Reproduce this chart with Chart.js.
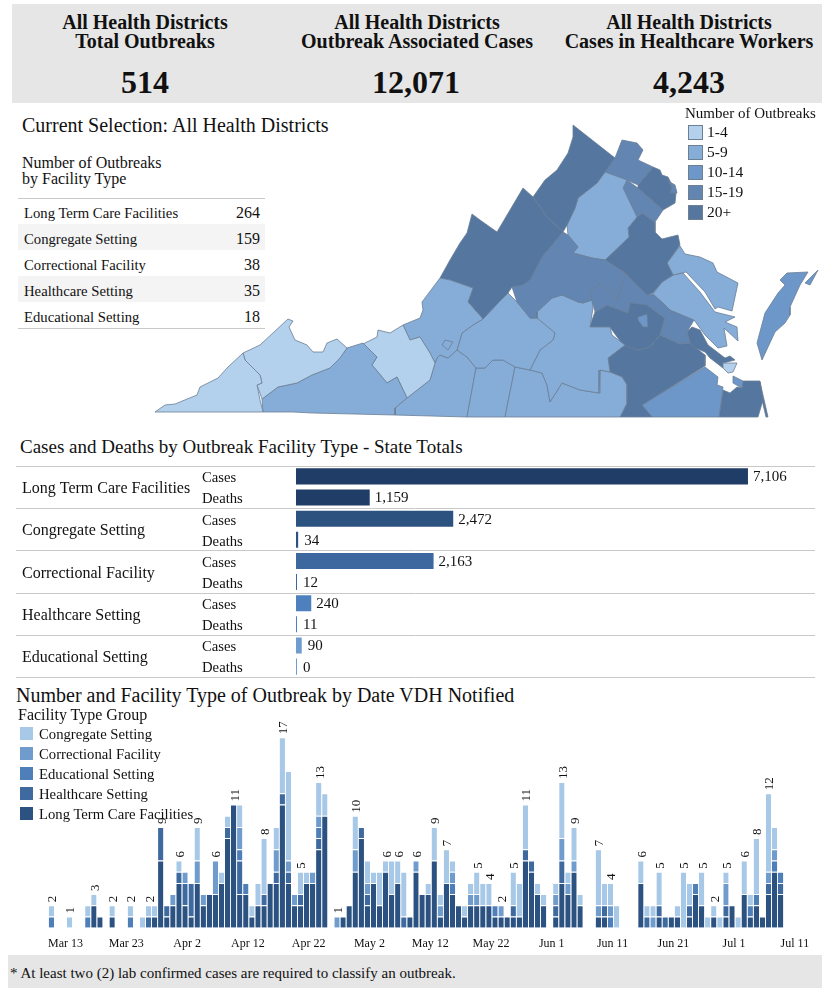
<!DOCTYPE html>
<html>
<head>
<meta charset="utf-8">
<title>Outbreaks</title>
<script src="https://cdn.jsdelivr.net/npm/chart.js@4"></script>
<style>
  html, body { margin: 0; padding: 0; background: #fff; }
  body { position: relative; width: 822px; height: 990px; overflow: hidden; font-family: "Liberation Serif", serif; color: #111; }
  canvas { position: absolute; }
  .t { position: absolute; white-space: nowrap; }
  .band { position: absolute; background: #e6e6e6; }
  .head { position: absolute; width: 280px; text-align: center; font-weight: bold; font-size: 20px; line-height: 19px; white-space: nowrap; }
  .big { position: absolute; width: 280px; text-align: center; font-weight: bold; font-size: 32px; line-height: 32px; }
  .stripe { position: absolute; left: 18px; width: 247px; height: 26px; background: #f4f4f4; }
  .rule { position: absolute; left: 18px; width: 247px; height: 1px; background: #c8c8c8; }
  .swatch { position: absolute; width: 13px; height: 13px; border: 1px solid #6f7f93; }
  .sw2 { position: absolute; width: 13px; height: 13px; }
</style>
</head>
<body>
<div class="band" style="left:12px;top:4px;width:810px;height:99px"></div>
<div class="band" style="left:8px;top:955px;width:814px;height:33px"></div>

<div class="head" style="left:5px;top:13px">All Health Districts<br>Total Outbreaks</div>
<div class="head" style="left:277px;top:13px">All Health Districts<br>Outbreak Associated Cases</div>
<div class="head" style="left:549px;top:13px">All Health Districts<br>Cases in Healthcare Workers</div>
<div class="big" style="left:5px;top:66px">514</div>
<div class="big" style="left:276px;top:66px">12,071</div>
<div class="big" style="left:549px;top:66px">4,243</div>

<div class="t" style="left:22px;top:113px;font-size:20px;line-height:24px">Current Selection: All Health Districts</div>
<div class="t" style="left:22px;top:155px;font-size:16px;line-height:16px">Number of Outbreaks<br>by Facility Type</div>
<div class="stripe" style="top:224px"></div>
<div class="stripe" style="top:276px"></div>
<div class="rule" style="top:198px"></div>
<div class="rule" style="top:328px"></div>
<div id="facilityTable"></div>

<div class="t" style="left:20px;top:436px;font-size:19px;line-height:22px">Cases and Deaths by Outbreak Facility Type - State Totals</div>
<div class="t" style="left:16px;top:683px;font-size:20px;line-height:24px">Number and Facility Type of Outbreak by Date VDH Notified</div>

<canvas id="mapChart" width="672" height="310" style="left:150px;top:110px"></canvas>
<canvas id="stateChart" width="822" height="229" style="left:0;top:457px"></canvas>
<canvas id="dateChart" width="822" height="255" style="left:0;top:700px"></canvas>

<div class="t" style="left:685px;top:106px;font-size:15px;line-height:15px">Number of Outbreaks</div>
<div id="mapLegend"></div>
<div class="t" style="left:18px;top:706px;font-size:16px;line-height:18px">Facility Type Group</div>
<div id="dateLegend"></div>
<div class="t" style="left:10px;top:964px;font-size:15px;line-height:18px">* At least two (2) lab confirmed cases are required to classify an outbreak.</div>

<script>
// --- table
const tableTypes = ['Long Term Care Facilities', 'Congregate Setting', 'Correctional Facility', 'Healthcare Setting', 'Educational Setting'];
const tableCounts = [264, 159, 38, 35, 18];

// --- state totals
const stateTypes = ['Long Term Care Facilities', 'Congregate Setting', 'Correctional Facility', 'Healthcare Setting', 'Educational Setting'];
const stateRows = ['Cases', 'Deaths', 'Cases', 'Deaths', 'Cases', 'Deaths', 'Cases', 'Deaths', 'Cases', 'Deaths'];
const stateValues = [7106, 1159, 2472, 34, 2163, 12, 240, 11, 90, 0];
const stateColors = ['#1f3d66', '#1f3d66', '#2c5380', '#2c5380', '#3d689f', '#3d689f', '#4d80bd', '#4d80bd', '#6f9ccf', '#6f9ccf'];

// --- outbreaks by date, one value per day from Mar 10
const longTermCare = [
  0,0,0,0,0,0,0,2,1,0, 1,0,0,0,0,0,0,1,6,1,
  2,4,2,1,4,2,3,3,4,8, 11,3,3,1,2,2,4,4,11,4,
  2,2,4,4,7,10,0,0,1,2, 5,8,2,4,2,5,3,4,0,1,
  5,3,3,6,1,4,3,2,1,2, 2,2,2,1,1,1,1,1,6,5,
  3,2,0,1,4,3,5,2,0,0, 1,1,0,0,0,0,0,4,0,0,
  1,0,1,1,0,1,3,2,0,1, 0,1,2,0,3,1,2,1,3,5,
  3];
const healthcare = [
  0,0,0,0,0,0,0,0,0,0, 0,0,0,0,0,0,1,0,3,1,
  0,1,2,3,0,0,0,0,0,1, 0,3,0,0,0,1,0,1,1,1,
  0,1,0,0,1,0,0,0,0,0, 0,1,1,0,0,0,0,0,1,0,
  0,0,0,0,0,0,0,0,0,0, 0,0,0,0,0,0,1,0,1,1,
  0,0,0,1,2,0,0,0,0,0, 0,1,0,0,0,0,0,0,1,0,
  1,1,0,0,0,1,0,0,0,0, 0,1,0,0,0,0,0,0,1,0,
  1];
const educational = [
  1,0,0,0,0,0,1,0,0,0, 0,0,0,1,0,0,0,0,0,0,
  0,0,0,0,0,0,0,0,0,0, 0,1,1,0,0,0,0,0,0,0,
  0,0,0,0,1,0,0,0,0,0, 0,0,0,0,0,0,0,0,0,0,
  0,0,0,0,0,0,1,0,0,0, 0,0,0,1,0,0,0,0,0,0,
  0,0,0,0,0,0,0,0,0,0, 0,0,1,0,0,0,0,0,0,0,
  0,0,0,0,0,0,1,0,0,0, 0,0,0,0,0,1,1,0,0,1,
  1];
const correctional = [
  0,0,0,0,0,0,0,0,0,0, 0,0,0,0,0,0,0,0,0,0,
  1,0,1,0,2,1,0,3,0,0, 0,2,0,0,0,0,0,2,0,1,
  1,0,0,1,1,0,0,1,0,0, 2,0,1,0,0,0,0,0,0,0,
  1,0,0,0,1,0,1,0,0,1, 1,0,0,0,1,0,0,0,0,0,
  0,0,0,1,2,1,1,0,0,0, 1,0,1,0,0,0,0,0,0,1,
  0,0,0,0,0,0,0,0,0,0, 0,2,0,0,0,0,0,0,1,1,
  0];
const congregate = [
  1,0,0,1,0,0,1,1,0,0, 1,0,0,1,0,1,1,1,0,0,
  0,1,0,0,3,0,0,0,1,1, 0,2,0,1,2,5,0,2,5,8,
  0,2,1,0,3,2,0,0,0,0, 3,0,2,1,3,1,3,2,4,0,
  0,0,1,3,1,3,1,0,1,1, 2,2,2,0,0,0,3,3,4,0,
  1,1,0,1,5,1,3,1,0,0, 5,2,2,2,0,0,0,2,1,1,
  3,0,0,1,5,2,0,3,1,1, 1,1,0,1,3,1,5,0,7,2,
  0];
const labeledBars = [0, 3, 7, 10, 13, 16, 18, 21, 24, 27, 30, 35, 38, 41, 44, 47, 50, 55, 57, 60, 63, 65, 70, 72, 74, 76, 78, 84, 86, 90, 92, 97, 100, 104, 107, 109, 111, 114, 116, 118];
const tickLabels = ['Mar 13', 'Mar 23', 'Apr 2', 'Apr 12', 'Apr 22', 'May 2', 'May 12', 'May 22', 'Jun 1', 'Jun 11', 'Jun 21', 'Jul 1', 'Jul 11'];
const groupNames = ['Congregate Setting', 'Correctional Facility', 'Educational Setting', 'Healthcare Setting', 'Long Term Care Facilities'];
const groupColors = ['#a7c8e6', '#6f9ccc', '#4f7fb8', '#3e6a9f', '#2b5280'];

// --- map legend
const mapBins = ['1-4', '5-9', '10-14', '15-19', '20+'];
const mapColors = ['#b3d1ec', '#86add8', '#6e97c9', '#6285b2', '#54769f'];

// --- health district outlines, [x, y] in map units
const arlington = [[668,181],[675,185],[677,193],[670,193],[672,187]];
const roanokeCity = [[442,345],[445,340],[453,342],[448,350]];
const richmondCity = [[638,317],[647,314],[648,327],[643,327],[638,320]];
const hamptonCity = [[723,363],[737,363],[733,372],[728,373],[723,368]];
const norfolk = [[733,376],[743,381],[742,388],[733,383]];
const lenowisco = [[155,412],[165,405],[175,404],[197,395],[200,387],[218,378],[228,367],[243,353],[245,360],[260,375],[262,383],[257,385],[260,400],[263,412]];
const cumberland = [[243,353],[260,345],[288,319],[293,321],[289,327],[295,340],[307,345],[313,352],[323,352],[327,343],[337,339],[347,348],[340,358],[330,368],[312,375],[297,383],[278,387],[262,399],[257,385],[262,383],[260,375],[245,360]];
const mountRogers = [[262,399],[278,387],[297,383],[312,375],[330,368],[340,358],[347,348],[363,343],[377,357],[372,365],[387,383],[397,377],[407,398],[395,408],[395,415],[313,413],[293,412],[263,412]];
const newRiver = [[363,344],[377,337],[378,330],[390,333],[403,325],[410,340],[420,337],[430,353],[435,363],[430,380],[407,398],[397,377],[387,383],[372,365],[377,357]];
const roanoke = [[403,325],[420,318],[423,310],[422,302],[440,278],[450,280],[473,288],[468,302],[483,319],[473,325],[462,333],[457,350],[448,358],[440,355],[437,358],[435,363],[430,353],[420,337],[410,340]];
const shenandoah = [[472,214],[480,220],[497,232],[523,188],[533,197],[547,217],[563,232],[542,257],[530,280],[523,285],[512,287],[508,293],[498,303],[483,319],[468,302],[473,288],[450,280],[440,278],[450,260],[460,243],[467,233]];
const lordFairfax = [[573,125],[615,158],[605,172],[597,183],[578,198],[575,208],[567,225],[563,232],[547,217],[533,197],[545,180],[557,170],[568,153],[573,137]];
const blueRidge = [[563,232],[568,235],[578,247],[573,253],[592,258],[605,260],[625,273],[618,300],[600,283],[590,293],[592,300],[583,303],[578,302],[562,295],[552,298],[537,312],[537,318],[530,318],[517,302],[512,287],[523,285],[530,280],[542,257]];
const rapidan = [[605,172],[627,180],[623,188],[637,217],[628,228],[629,237],[605,260],[592,258],[573,253],[578,247],[568,235],[567,225],[575,208],[578,198],[597,183]];
const fauquier = [[615,158],[622,140],[637,143],[643,150],[638,160],[653,167],[638,185],[627,180],[605,172]];
const fairfax = [[653,167],[660,170],[662,175],[668,177],[676,193],[675,203],[663,210],[638,188],[638,185]];
const princeWilliam = [[627,180],[638,188],[663,210],[655,222],[642,213],[637,217],[623,188]];
const rappahannock = [[642,213],[655,222],[655,232],[662,239],[678,235],[680,245],[667,263],[673,275],[662,282],[653,293],[647,295],[625,273],[605,260],[629,237],[628,228],[637,217]];
const northernNeck = [[680,246],[685,254],[700,257],[713,263],[717,272],[738,283],[732,311],[718,307],[715,309],[705,292],[686,272],[673,275],[667,263]];
const middlePeninsula = [[673,275],[683,273],[700,292],[715,312],[735,317],[725,322],[737,327],[738,341],[724,328],[727,346],[718,348],[705,335],[694,320],[670,310],[662,302],[653,294],[662,282]];
const chickahominy = [[625,273],[647,295],[653,294],[662,302],[670,310],[694,320],[687,332],[690,343],[680,344],[660,335],[665,318],[647,305],[630,303],[628,313],[607,305],[595,312],[592,300],[590,293],[600,283],[618,300]];
const peninsula = [[687,332],[692,327],[700,330],[708,345],[725,358],[730,356],[735,360],[723,363],[723,368],[710,358],[705,352],[693,347],[690,343]];
const lynchburg = [[508,293],[517,302],[530,318],[537,318],[555,333],[553,340],[540,350],[530,370],[515,367],[503,360],[493,360],[485,368],[476,368],[467,357],[457,350],[462,333],[473,325],[483,319],[498,303]];
const piedmont = [[537,318],[537,312],[552,298],[562,295],[578,302],[583,303],[592,300],[593,308],[590,327],[610,327],[612,335],[625,345],[608,358],[610,372],[600,370],[599,393],[580,390],[562,383],[550,402],[547,385],[542,373],[530,370],[540,350],[553,340],[555,333]];
const southside = [[515,367],[530,370],[542,373],[547,385],[550,402],[562,383],[580,390],[599,393],[600,370],[610,372],[622,377],[627,385],[627,403],[620,417],[505,417]];
const pittsylvania = [[476,368],[485,368],[493,360],[503,360],[515,367],[505,417],[467,417]];
const westPiedmont = [[395,408],[407,398],[430,380],[435,363],[437,358],[440,355],[448,358],[457,350],[467,357],[476,368],[467,417],[395,415]];
const henrico = [[595,312],[607,305],[628,313],[630,303],[638,302],[647,305],[665,318],[660,335],[650,347],[638,350],[623,345],[612,330],[610,327],[590,327],[592,320]];
const crater = [[608,358],[625,345],[638,350],[650,347],[660,335],[680,344],[690,343],[705,355],[705,366],[642,405],[652,417],[620,417],[627,403],[627,385],[622,377],[610,372]];
const westernTidewater = [[642,405],[705,367],[718,377],[717,385],[723,387],[719,417],[652,417]];
const virginiaBeach = [[719,417],[723,390],[730,393],[737,387],[742,388],[743,381],[760,381],[763,400],[758,417]];
const beachStrip = [[760,382],[768,417],[766,417],[762,400]];
const easternShore = [[787,273],[808,272],[800,285],[790,307],[790,315],[785,323],[775,332],[762,360],[757,343],[765,313],[778,293],[785,285],[780,280]];
const tangier = [[818,270],[810,285],[805,283]];

const mapDistricts = [
  [arlington, 3], [roanokeCity, 1], [richmondCity, 2], [hamptonCity, 0], [norfolk, 2],
  [lenowisco, 0], [cumberland, 0], [mountRogers, 1], [newRiver, 0], [roanoke, 1],
  [shenandoah, 4], [lordFairfax, 4], [blueRidge, 3], [rapidan, 1], [fauquier, 3],
  [fairfax, 4], [princeWilliam, 3], [rappahannock, 4], [northernNeck, 1], [middlePeninsula, 1],
  [chickahominy, 3], [peninsula, 4], [lynchburg, 1], [piedmont, 1], [southside, 1],
  [pittsylvania, 1], [westPiedmont, 1], [henrico, 4], [crater, 4], [westernTidewater, 2],
  [virginiaBeach, 4], [beachStrip, 4], [easternShore, 2], [tangier, 2]
];

const serif = '"Liberation Serif", serif';

// html table and legends
let html = '';
tableTypes.forEach(function (name, i) {
  const y = 204 + i * 26;
  html += '<div class="t" style="left:24px;top:' + y + 'px;font-size:14.7px;line-height:18px">' + name + '</div>';
  html += '<div class="t" style="right:562px;top:' + y + 'px;font-size:16px;line-height:18px">' + tableCounts[i] + '</div>';
});
document.getElementById('facilityTable').innerHTML = html;

html = '';
mapBins.forEach(function (name, i) {
  const y = 125 + i * 20;
  html += '<div class="swatch" style="left:688px;top:' + y + 'px;background:' + mapColors[i] + '"></div>';
  html += '<div class="t" style="left:707px;top:' + (y - 2) + 'px;font-size:15.5px;line-height:18px">' + name + '</div>';
});
document.getElementById('mapLegend').innerHTML = html;

html = '';
groupNames.forEach(function (name, i) {
  const y = 727 + i * 20;
  html += '<div class="sw2" style="left:20px;top:' + y + 'px;background:' + groupColors[i] + '"></div>';
  html += '<div class="t" style="left:39px;top:' + (y - 2) + 'px;font-size:14.7px;line-height:18px">' + name + '</div>';
});
document.getElementById('dateLegend').innerHTML = html;


function loadMapChart() {
  const datasets = mapDistricts.map(function (district) {
    const points = district[0].concat([district[0][0]]);
    return {
      data: points.map(function (p) { return { x: p[0], y: p[1] }; }),
      backgroundColor: mapColors[district[1]],
      borderColor: '#6a7d96',
      borderWidth: 0.8,
      pointRadius: 0,
      tension: 0,
      fill: 'shape'
    };
  });
  new Chart(document.getElementById('mapChart'), {
    type: 'line',
    data: { datasets: datasets },
    options: {
      responsive: false,
      animation: false,
      devicePixelRatio: 1,
      layout: { padding: 0 },
      plugins: { legend: { display: false }, tooltip: { enabled: false } },
      scales: {
        x: { type: 'linear', display: false, min: 150, max: 822 },
        y: { type: 'linear', display: false, min: 110, max: 420, reverse: true }
      }
    }
  });
}


// rules, facility names and value labels of the state chart
const statePlugin = {
  id: 'statePlugin',
  afterDatasetsDraw: function (chart) {
    const ctx = chart.ctx;
    const y = chart.scales.y;
    const meta = chart.getDatasetMeta(0);
    ctx.save();
    ctx.strokeStyle = '#c8c8c8';
    ctx.lineWidth = 1;
    for (let g = 0; g <= stateTypes.length; g++) {
      const py = Math.round(chart.chartArea.top + (chart.chartArea.bottom - chart.chartArea.top) * g / stateTypes.length) + 0.5;
      ctx.beginPath();
      ctx.moveTo(16, py);
      ctx.lineTo(815, py);
      ctx.stroke();
    }
    ctx.fillStyle = '#111';
    ctx.textBaseline = 'middle';
    ctx.font = '16px ' + serif;
    stateTypes.forEach(function (name, g) {
      ctx.fillText(name, 22, (y.getPixelForValue(g * 2) + y.getPixelForValue(g * 2 + 1)) / 2 + 2);
    });
    ctx.font = '15px ' + serif;
    stateValues.forEach(function (v, i) {
      ctx.fillText(v.toLocaleString('en-US'), meta.data[i].x + (v < 100 ? 6 : 5), y.getPixelForValue(i) + 1);
    });
    ctx.restore();
  }
};

function loadStateChart() {
  new Chart(document.getElementById('stateChart'), {
    type: 'bar',
    data: {
      labels: stateRows,
      datasets: [{ data: stateValues, backgroundColor: stateColors, barPercentage: 0.76, categoryPercentage: 1, minBarLength: 1 }]
    },
    options: {
      indexAxis: 'y',
      responsive: false,
      animation: false,
      devicePixelRatio: 1,
      layout: { padding: { left: 202, right: 0, top: 0, bottom: 0 } },
      plugins: { legend: { display: false }, tooltip: { enabled: false } },
      scales: {
        x: { display: false, min: 0, max: 8270 },
        y: {
          afterFit: function (axis) { axis.width = 94; },
          grid: { display: false },
          border: { display: false },
          ticks: { color: '#111', padding: 0, crossAlign: 'far', labelOffset: 2, font: { family: serif, size: 14.7 }, autoSkip: false }
        }
      }
    },
    plugins: [statePlugin]
  });
}


function dayLabels(count) {
  const labels = [];
  for (let i = 0; i < count; i++) {
    const d = new Date(2020, 2, 10 + i);
    labels.push(d.toLocaleString('en-US', { month: 'short' }) + ' ' + d.getDate());
  }
  return labels;
}

// rotated totals above the marked bars
const totalsPlugin = {
  id: 'totalsPlugin',
  afterDatasetsDraw: function (chart) {
    const ctx = chart.ctx;
    const x = chart.scales.x;
    const y = chart.scales.y;
    ctx.save();
    ctx.fillStyle = '#111';
    ctx.font = '13px ' + serif;
    ctx.textBaseline = 'middle';
    ctx.textAlign = 'left';
    labeledBars.forEach(function (i) {
      const total = longTermCare[i] + healthcare[i] + educational[i] + correctional[i] + congregate[i];
      ctx.save();
      ctx.translate(x.getPixelForValue(i) + 1.5, y.getPixelForValue(total) - 3);
      ctx.rotate(-Math.PI / 2);
      ctx.fillText(String(total), 0, 0);
      ctx.restore();
    });
    ctx.restore();
  }
};

function loadDateChart() {
  const order = [
    ['Long Term Care Facilities', longTermCare, groupColors[4]],
    ['Healthcare Setting', healthcare, groupColors[3]],
    ['Educational Setting', educational, groupColors[2]],
    ['Correctional Facility', correctional, groupColors[1]],
    ['Congregate Setting', congregate, groupColors[0]]
  ];
  new Chart(document.getElementById('dateChart'), {
    type: 'bar',
    data: {
      labels: dayLabels(125),
      datasets: order.map(function (row) {
        return {
          label: row[0],
          data: row[1],
          backgroundColor: row[2],
          borderColor: 'rgba(255,255,255,0.75)',
          borderWidth: { top: 1, left: 0, right: 0, bottom: 0 },
          borderSkipped: false,
          barPercentage: 0.88,
          categoryPercentage: 1
        };
      })
    },
    options: {
      responsive: false,
      animation: false,
      devicePixelRatio: 1,
      layout: { padding: { left: 48.3, right: 14, top: 3.7, bottom: 0 } },
      plugins: { legend: { display: false }, tooltip: { enabled: false } },
      scales: {
        x: {
          stacked: true,
          afterFit: function (axis) { axis.height = 27.3; },
          grid: { display: false },
          border: { display: false },
          ticks: {
            color: '#111',
            autoSkip: false,
            maxRotation: 0,
            labelOffset: -4,
            padding: 1,
            font: { family: serif, size: 12 },
            callback: function (value) {
              const label = this.getLabelForValue(value);
              return tickLabels.includes(label) ? label : '';
            }
          }
        },
        y: { stacked: true, display: false, min: 0, max: 20 }
      }
    },
    plugins: [totalsPlugin]
  });
}


loadMapChart();
loadStateChart();
loadDateChart();
</script>
</body>
</html>
